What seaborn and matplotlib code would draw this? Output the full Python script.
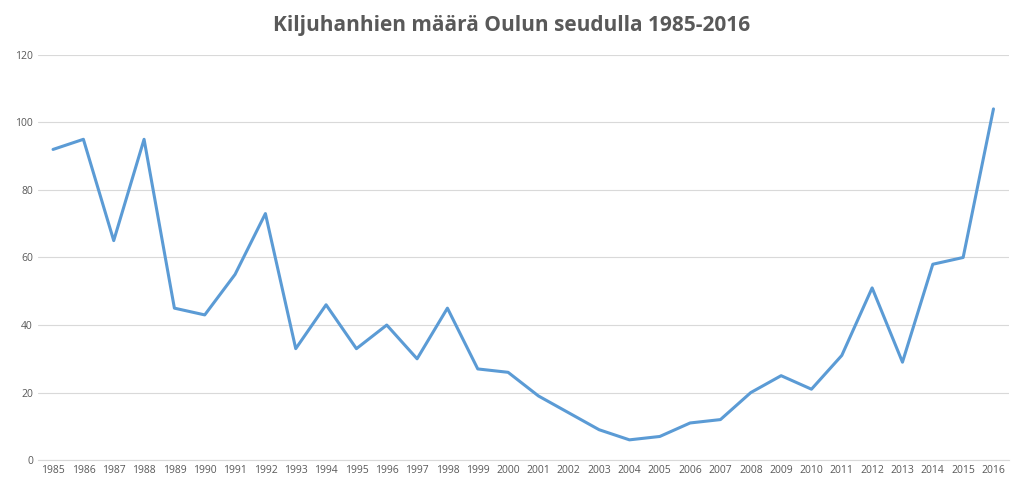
import numpy as np
import pandas as pd
import seaborn as sns
from matplotlib import pyplot as plt

years = list(range(1985, 2017))
counts = [92, 95, 65, 95, 45, 43, 55, 73, 33, 46, 33, 40, 30, 45, 27, 26,
          19, 14, 9, 6, 7, 11, 12, 20, 25, 21, 31, 51, 29, 58, 60, 104]
title = "Kiljuhanhien määrä Oulun seudulla 1985-2016"

df = pd.DataFrame({"pos": np.arange(len(years)), "count": counts})

sns.set_style("white")
plt.rcParams['font.family'] = ['Open Sans', 'DejaVu Sans']
fig = plt.figure(figsize=(10.24, 4.9), dpi=100)
ax = fig.add_axes([0.037, 0.061, 0.948, 0.827])
ax.yaxis.grid(True, color="#d9d9d9", linewidth=0.8)
sns.lineplot(data=df, x="pos", y="count", ax=ax, color="#5b9bd5", linewidth=2.2)

ax.set_xlim(-0.5, len(years) - 0.5)
ax.set_ylim(0, 120)
ax.set_yticks(range(0, 121, 20))
ax.set_xticks(range(len(years)))
ax.set_xticklabels([str(y) for y in years])
ax.tick_params(axis="both", labelsize=7.5, colors="#595959", length=0)
ax.set_xlabel("")
ax.set_ylabel("")
for s in ["top", "right", "left"]:
    ax.spines[s].set_visible(False)
ax.spines["bottom"].set_color("#d9d9d9")
fig.suptitle(title, y=0.97, fontsize=15, fontweight="bold", color="#595959")
fig.savefig("out.png", dpi=100)
